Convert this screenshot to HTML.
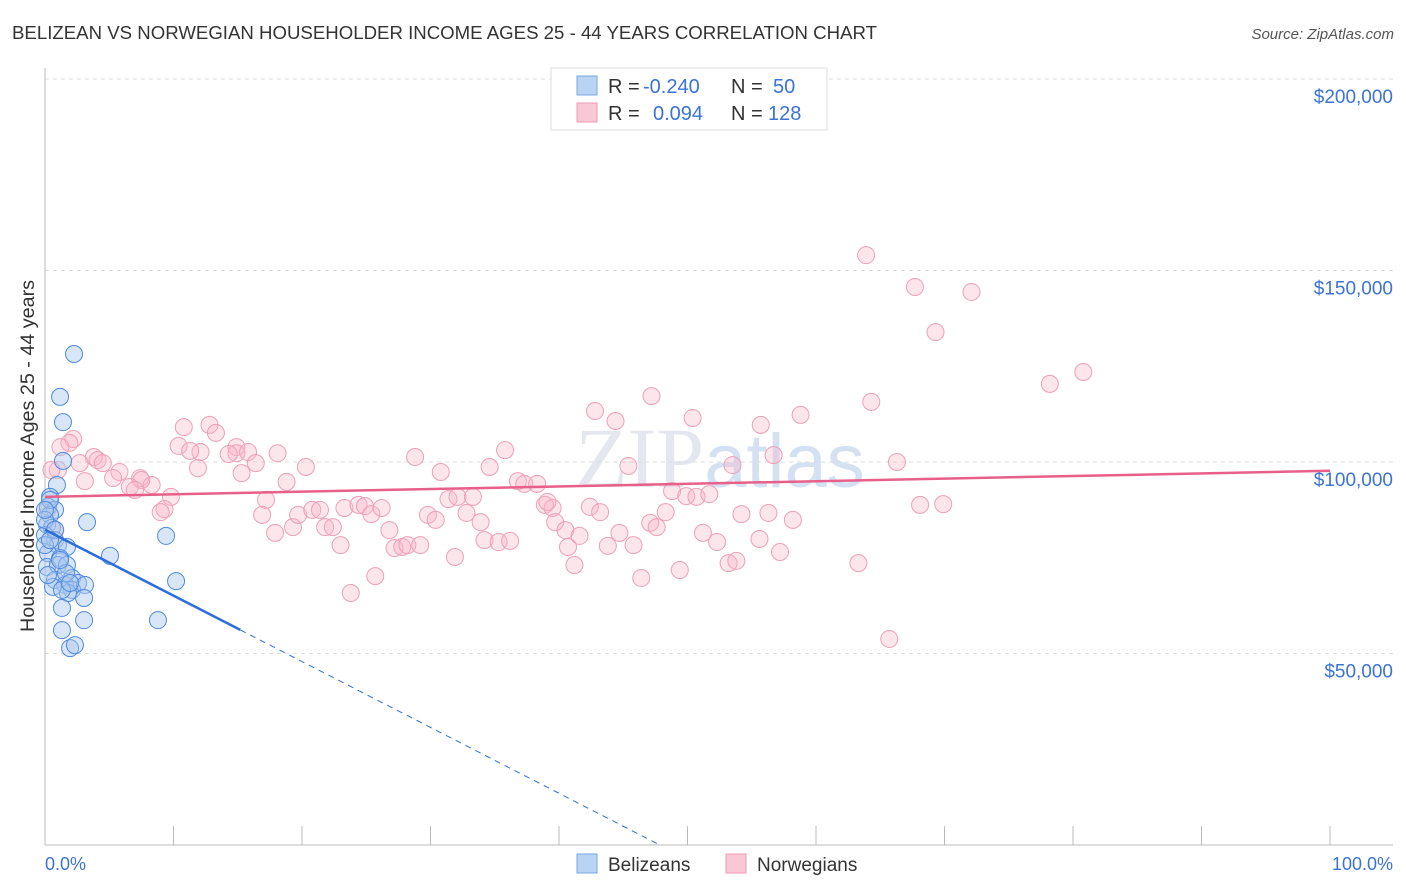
<!DOCTYPE html>
<html><head><meta charset="utf-8"><style>
body{margin:0;background:#fff;font-family:"Liberation Sans",sans-serif;}
#wrap{position:relative;width:1406px;height:892px;overflow:hidden}
</style></head><body><div id="wrap">
<svg id="svg" width="1406" height="892" xmlns="http://www.w3.org/2000/svg">
<text x="12" y="39" font-size="18" fill="#333" textLength="865" lengthAdjust="spacingAndGlyphs">BELIZEAN VS NORWEGIAN HOUSEHOLDER INCOME AGES 25 - 44 YEARS CORRELATION CHART</text>
<text x="1394" y="39" font-size="15" fill="#555" font-style="italic" text-anchor="end">Source: ZipAtlas.com</text>
<text x="720" y="487" font-size="86" fill="#e4e8ee" text-anchor="middle" font-family="Liberation Serif">ZIP<tspan font-family="Liberation Sans" fill="#d3e1f3" font-size="76">atlas</tspan></text>
<g id="grid"></g><g id="marks"></g>
<text transform="translate(34,456) rotate(-90)" font-size="19" fill="#333" text-anchor="middle" textLength="352" lengthAdjust="spacingAndGlyphs">Householder Income Ages 25 - 44 years</text>
<text x="45" y="870" font-size="18" fill="#3b73d6">0.0%</text>
<text x="1393" y="870" font-size="18" fill="#3b73d6" text-anchor="end">100.0%</text>
<g>
<rect x="551" y="68" width="276" height="62" fill="#fff" stroke="#ddd"/>
<rect x="577" y="76" width="20" height="19" fill="#b9d3f5" stroke="#7aa7e6"/>
<rect x="577" y="103" width="20" height="19" fill="#f9c8d6" stroke="#f09ab3"/>
<text x="608" y="93" font-size="20" fill="#333">R = <tspan fill="#3b73d6" x="643">-0.240</tspan><tspan x="731">N = </tspan><tspan fill="#3b73d6" x="773">50</tspan></text>
<text x="608" y="120" font-size="20" fill="#333">R = <tspan fill="#3b73d6" x="653">0.094</tspan><tspan x="731">N = </tspan><tspan fill="#3b73d6" x="768">128</tspan></text>
</g>
<g>
<rect x="577" y="854" width="20" height="19" fill="#b9d3f5" stroke="#7aa7e6"/>
<text x="608" y="871" font-size="19" fill="#333">Belizeans</text>
<rect x="726" y="854" width="20" height="19" fill="#f9c8d6" stroke="#f09ab3"/>
<text x="757" y="871" font-size="19" fill="#333">Norwegians</text>
</g>
</svg></div>
<script>
const yTicks=[50,100,150,200];
const yTickLabels=["$50,000","$100,000","$150,000","$200,000"];
const xTicks=[0,10,20,30,40,50,60,70,80,90,100];
const blueX=[2.26,1.17,1.4,1.4,0.93,0.39,0.23,0.78,0.39,0.16,0.54,0,0.78,1.01,1.71,0.23,1.17,0.16,1.01,1.71,0.78,2.1,2.57,1.56,2.1,3.11,1.79,1.32,3.04,1.32,3.04,1.95,2.33,3.27,5.06,9.42,10.2,8.79,0,0.39,0,0.62,1.63,0.23,1.32,0.78,0.39,0,1.17,1.95];
const blueY=[128.2,117,110.4,100.3,94,90.9,88.3,87.5,86.2,83.6,82.8,80.9,79.6,78.3,77.8,76.2,74.9,72.6,73.1,73.1,69.2,69.7,68.4,67.9,66.6,67.9,65.8,61.9,64.5,56.1,58.7,51.4,52.2,84.3,75.5,80.7,68.9,58.7,84.9,90.1,78.3,67.4,71,70.5,66.6,82.3,79.6,87.5,74.4,68.4];
const pinkX=[63.9,67.7,72.1,69.3,78.2,80.8,64.3,58.8,55.7,50.4,47.2,44.4,42.8,10.8,12.8,13.3,14.9,14.9,15.8,18.1,12.1,10.4,11.3,14.3,3.8,4.1,2.2,1.9,1.2,2.7,1.0,5.8,7.4,5.3,8.3,7.5,6.6,7.0,9.8,11.9,15.3,16.4,20.3,18.8,17.2,16.9,17.9,19.3,19.7,20.8,21.4,21.8,22.4,23.0,23.3,24.4,24.9,25.4,26.2,26.8,27.2,27.8,28.2,29.2,28.8,29.8,30.4,30.8,31.4,32.1,33.3,32.8,33.9,34.2,35.3,36.2,34.6,35.8,36.8,37.3,38.3,38.9,39.5,39.7,40.5,40.7,41.2,41.6,42.4,43.2,43.8,44.7,45.8,46.4,45.4,47.1,47.6,48.3,48.8,49.4,49.9,50.7,51.2,51.7,52.3,53.2,53.8,54.2,55.6,56.3,57.2,58.2,53.5,56.7,66.3,68.1,69.9,63.3,65.7,23.8,25.7,31.9,39.1,9.3,9.0,3.1,4.5,0.5,0.2,0.8];
const pinkY=[154.0,145.7,144.4,133.9,120.4,123.5,115.7,112.3,109.7,111.5,117.2,110.7,113.3,109.1,109.7,107.6,103.9,102.3,102.6,102.3,102.6,104.2,102.9,102.1,101.3,100.5,106.0,105.0,103.9,99.7,97.9,97.4,95.8,95.8,94.0,95.3,93.5,92.7,90.9,98.4,97.1,99.7,98.7,94.8,90.1,86.2,81.5,83.0,86.2,87.5,87.5,83.0,83.0,78.3,88.0,88.8,88.5,86.4,88.0,82.2,77.5,77.8,78.3,78.3,101.3,86.2,84.9,97.4,90.3,90.9,90.9,86.7,84.3,79.6,79.1,79.4,98.7,103.1,95.0,94.3,94.3,88.8,88.0,84.3,82.2,77.8,73.1,80.7,88.3,86.9,78.1,81.5,78.3,69.7,99.0,84.1,83.0,86.9,92.4,71.8,91.1,90.9,81.5,91.6,79.1,73.6,74.2,86.4,79.9,86.7,76.5,84.9,99.2,101.8,100.0,88.8,89.0,73.6,53.8,65.8,70.2,75.2,89.6,87.7,86.9,95.0,99.7,97.9,87.5,82.2];
const blueFit=[82.3,-1.72];
const pinkFit=[90.9,0.068];
const X0=45,X1=1330,YB=845,PXK=3.83;
const sx=v=>X0+(X1-X0)*v/100, sy=v=>YB-v*PXK;
const NS="http://www.w3.org/2000/svg";
function mk(tag,attrs,parent){const e=document.createElementNS(NS,tag);for(const k in attrs)e.setAttribute(k,attrs[k]);parent.appendChild(e);return e;}
const grid=document.getElementById('grid'),marks=document.getElementById('marks');
yTicks.forEach((t,i)=>{
 const l=mk('line',{x1:X0,x2:1393,y1:sy(t),y2:sy(t),stroke:'#ddd','stroke-dasharray':'4,4'},grid);
 
 
 const tx=mk('text',{x:1393,y:sy(t)+24,'font-size':19,fill:'#3b73d6','text-anchor':'end'},grid);
 tx.textContent=yTickLabels[i];
 
 
});
const ax=mk('line',{x1:X0,x2:1393,y1:YB,y2:YB,stroke:'#bbb'},grid);


const ay=mk('line',{x1:X0,x2:X0,y1:68,y2:YB,stroke:'#bbb'},grid);


xTicks.forEach(t=>{const l=mk('line',{x1:sx(t),x2:sx(t),y1:826,y2:YB,stroke:'#bbb'},grid);
 
 });
pinkX.forEach((x,i)=>{const c=mk('circle',{cx:sx(x),cy:sy(pinkY[i]),r:8.5,fill:'rgba(248,180,200,0.35)',stroke:'#eea0b8','stroke-width':1},marks);
 
 });
blueX.forEach((x,i)=>{const c=mk('circle',{cx:sx(x),cy:sy(blueY[i]),r:8.5,fill:'rgba(170,200,240,0.45)',stroke:'#4f8ae0','stroke-width':1},marks);
 
 });
const pl=mk('line',{x1:sx(0),y1:sy(pinkFit[0]),x2:sx(100),y2:sy(pinkFit[0]+pinkFit[1]*100),stroke:'#e8608a','stroke-width':2.5},marks);


const xEnd=15.2, xZero=-blueFit[0]/blueFit[1];
const bl=mk('line',{x1:sx(0),y1:sy(blueFit[0]),x2:sx(xEnd),y2:sy(blueFit[0]+blueFit[1]*xEnd),stroke:'#2d6fd8','stroke-width':2.5},marks);


const bd=mk('line',{x1:sx(xEnd),y1:sy(blueFit[0]+blueFit[1]*xEnd),x2:sx(xZero),y2:sy(0),stroke:'#2d6fd8','stroke-width':1,'stroke-dasharray':'6,5'},marks);


</script></body></html>
